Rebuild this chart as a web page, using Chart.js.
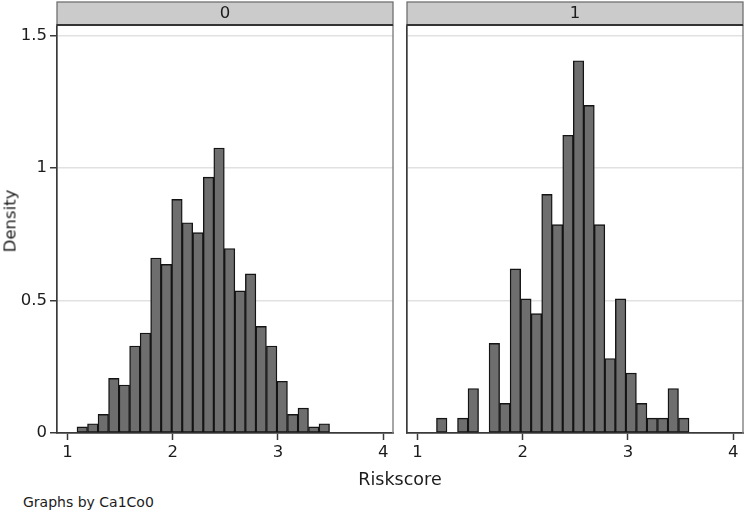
<!DOCTYPE html>
<html>
<head>
<meta charset="utf-8">
<script src="https://cdn.jsdelivr.net/npm/chart.js@4/dist/chart.umd.min.js"></script>
<style>
  html, body { margin:0; padding:0; background:#fff; }
  #wrap { position:relative; width:746px; height:510px; overflow:hidden; background:#fff; font-family:"DejaVu Sans", sans-serif; color:#1c1c1c; }
  canvas { position:absolute; }
  .lbl { position:absolute; white-space:nowrap; }
</style>
</head>
<body>
<div id="wrap">
  <canvas id="c0" width="400" height="470" style="left:0;top:0;"></canvas>
  <canvas id="c1" width="346" height="470" style="left:400px;top:0;"></canvas>
  <div class="lbl" id="ylab" style="left:10px;top:221px;font-size:16.5px;transform:translate(-50%,-50%) rotate(-90deg);">Density</div>
  <div class="lbl" style="left:400px;top:479px;font-size:17.5px;transform:translate(-50%,-50%);">Riskscore</div>
  <div class="lbl" style="left:23px;top:502px;font-size:14px;transform:translateY(-50%);">Graphs by Ca1Co0</div>
</div>
<script>
// ---- data ----
const panelLabels = ["0", "1"];
const binCenters0 = [1.14,1.24,1.34,1.44,1.54,1.64,1.74,1.84,1.94,2.04,2.14,2.24,2.34,2.44,2.54,2.64,2.74,2.84,2.94,3.04,3.14,3.24,3.34,3.44];
const density0 =    [0.023,0.035,0.070,0.206,0.181,0.328,0.377,0.660,0.636,0.881,0.793,0.756,0.965,1.075,0.696,0.536,0.600,0.402,0.328,0.195,0.070,0.094,0.023,0.035];
const binCenters1 = [1.23,1.33,1.43,1.53,1.63,1.73,1.83,1.93,2.03,2.13,2.23,2.33,2.43,2.53,2.63,2.73,2.83,2.93,3.03,3.13,3.23,3.33,3.43,3.53];
const density1 =    [0.056,null,0.056,0.168,null,0.338,0.112,0.619,0.506,0.450,0.900,0.786,1.123,1.404,1.236,0.786,0.281,0.506,0.226,0.112,0.056,0.056,0.168,0.056];
const xTicks = [1, 2, 3, 4];
const yTicks = [0, 0.5, 1, 1.5];

const FONT = "DejaVu Sans";

const framePlugin = {
  id: 'frame',
  afterDraw(chart, args, opts) {
    const { ctx, chartArea: a } = chart;
    ctx.save();
    // right border of plot region
    ctx.strokeStyle = '#808080';
    ctx.lineWidth = 1.4;
    ctx.beginPath();
    ctx.moveTo(a.right, a.top);
    ctx.lineTo(a.right, a.bottom + 0.5);
    ctx.stroke();
    // strip
    const top = 2;
    ctx.fillStyle = '#cbcbcb';
    ctx.fillRect(a.left, top, a.right - a.left, a.top - top);
    ctx.strokeStyle = '#707070';
    ctx.lineWidth = 1.3;
    ctx.strokeRect(a.left, top, a.right - a.left, a.top - top);
    ctx.strokeStyle = '#333';
    ctx.lineWidth = 1.8;
    ctx.beginPath();
    ctx.moveTo(a.left, a.top);
    ctx.lineTo(a.right, a.top);
    ctx.stroke();
    ctx.fillStyle = '#1c1c1c';
    ctx.font = '16.5px "' + FONT + '"';
    ctx.textAlign = 'center';
    ctx.textBaseline = 'middle';
    ctx.fillText(opts.label, (a.left + a.right) / 2, (top + a.top) / 2 + 0.5);
    ctx.restore();
  }
};

function makeChart(id, centers, values, label, showY, padRight, yWidth) {
  return new Chart(document.getElementById(id), {
    type: 'bar',
    data: {
      datasets: [{
        data: centers.map((c, i) => ({ x: c, y: values[i] })),
        backgroundColor: '#6e6e6e',
        borderColor: '#141414',
        borderWidth: 1.4,
        barPercentage: 1,
        categoryPercentage: 1,
        borderSkipped: false
      }]
    },
    options: {
      responsive: false,
      animation: false,
      events: [],
      layout: { padding: { left: 0, right: padRight, top: 25, bottom: 0 } },
      plugins: { legend: { display: false }, tooltip: { enabled: false }, frame: { label: label } },
      scales: {
        x: {
          type: 'linear',
          offset: false,
          min: 0.9,
          max: 4.093,
          afterBuildTicks: s => { s.ticks = xTicks.map(v => ({ value: v })); },
          afterFit: s => { s.height = 37; },
          grid: { display: true, offset: false, drawOnChartArea: false, drawTicks: true, tickLength: 7, tickColor: '#3a3a3a', tickWidth: 1.5 },
          border: { display: true, color: '#3a3a3a', width: 1.7 },
          ticks: { color: '#1c1c1c', font: { family: FONT, size: 16.5 }, padding: 3, maxRotation: 0, autoSkip: false, callback: v => String(v) }
        },
        y: {
          min: 0,
          max: 1.539,
          afterBuildTicks: s => { s.ticks = yTicks.map(v => ({ value: v })); },
          afterFit: s => { s.width = yWidth; },
          grid: {
            color: c => (c.tick && c.tick.value === 0) ? 'rgba(0,0,0,0)' : '#e1e1e1',
            lineWidth: 1.5,
            drawTicks: showY,
            tickLength: showY ? 7 : 0,
            tickColor: '#3a3a3a',
            tickWidth: 1.5
          },
          border: { display: true, color: '#3a3a3a', width: 1.7 },
          ticks: { display: showY, color: '#1c1c1c', font: { family: FONT, size: 16.5 }, padding: 3, callback: v => String(v) }
        }
      }
    },
    plugins: [framePlugin]
  });
}

makeChart('c0', binCenters0, density0, panelLabels[0], true, 7, 57);
makeChart('c1', binCenters1, density1, panelLabels[1], false, 3, 7);
</script>
</body>
</html>
